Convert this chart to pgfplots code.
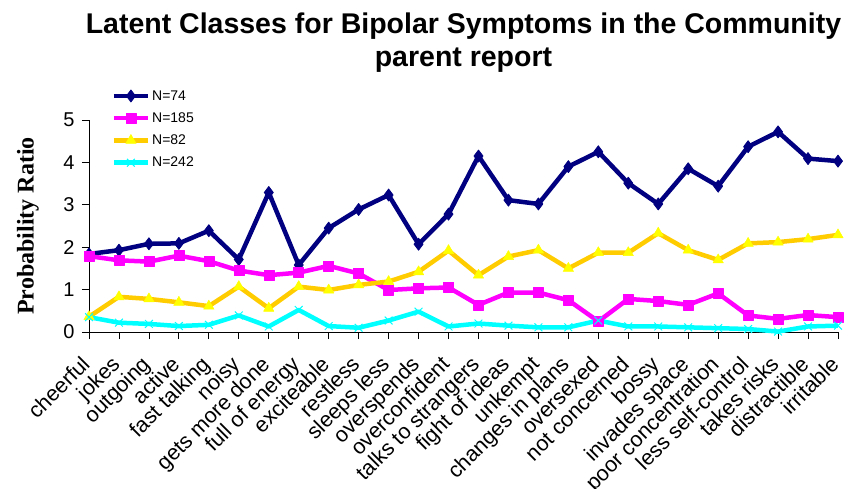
\documentclass[border=0pt]{standalone}
\usepackage{pgfplots}
\pgfplotsset{compat=1.18}
\usepackage{fontspec}
\setmainfont{Liberation Sans}
\newfontfamily\serifb{Liberation Serif}
\definecolor{navyc}{HTML}{000080}
\definecolor{magc}{HTML}{FF00FF}
\definecolor{goldc}{HTML}{FFCC00}
\definecolor{yelc}{HTML}{FFFF00}
\definecolor{cyanc}{HTML}{00FFFF}
\begin{document}
\begin{tikzpicture}
\path[use as bounding box] (-89pt,-157pt) rectangle (772pt,332pt);
\begin{axis}[
  at={(0,0)}, anchor=south west,
  scale only axis, width=749pt, height=212pt,
  xmin=0, xmax=25, ymin=0, ymax=5,
  axis lines*=left,
  clip=false,
  xtick={0,...,25},
  xticklabels={cheerful,jokes,outgoing,active,fast talking,noisy,gets more done,full of energy,exciteable,restless,sleeps less,overspends,overconfident,talks to strangers,fight of ideas,unkempt,changes in plans,oversexed,not concerned,bossy,invades space,poor concentration,less self-control,takes risks,distractible,irritable},
  ytick={0,1,2,3,4,5},
  tick align=outside, major tick length=7pt,
  tick style={black, line width=0.8pt},
  axis line style={black, line width=0.8pt},
  /pgf/number format/assume math mode=true,
  yticklabel style={font=\fontsize{20}{22}\selectfont, xshift=-4pt},
  xticklabel style={font=\fontsize{21.5}{23}\selectfont, xshift=-9pt, yshift=-14pt, rotate=45, anchor=north east, inner sep=1pt},
  title={Latent Classes for Bipolar Symptoms in the Community\\parent report},
  title style={at={(axis description cs:0.5,1)}, anchor=south, yshift=38pt, align=center, font=\fontsize{28.5}{33}\selectfont\bfseries},
  ylabel={Probability Ratio},
  ylabel style={at={(axis description cs:0,0.5)}, anchor=center, yshift=61pt, font=\fontsize{24}{26}\selectfont\serifb\bfseries},
  legend style={at={(axis description cs:0.03,1.15)}, anchor=north west, draw=none, fill=none, font=\fontsize{14}{16}\selectfont, row sep=7pt, inner sep=0pt},
  legend cell align=left,
  legend image code/.code={\draw[#1, mark repeat=2, mark phase=2] plot coordinates {(0pt,0pt)(17pt,0pt)(34pt,0pt)};},
  every axis plot/.append style={line width=4.5pt, line join=round},
]
\addplot[navyc, mark=diamond*, mark size=6pt, mark options={fill=navyc, line width=0.8pt}] coordinates {
(0,1.84)(1,1.93)(2,2.08)(3,2.09)(4,2.39)(5,1.71)(6,3.29)(7,1.58)(8,2.45)(9,2.89)(10,3.23)(11,2.07)(12,2.78)(13,4.15)(14,3.11)(15,3.02)(16,3.90)(17,4.25)(18,3.51)(19,3.02)(20,3.85)(21,3.44)(22,4.37)(23,4.72)(24,4.09)(25,4.03)};
\addlegendentry{N=74}
\addplot[magc, mark=square*, mark size=5pt, mark options={fill=magc, line width=0.5pt}] coordinates {
(0,1.79)(1,1.69)(2,1.66)(3,1.80)(4,1.67)(5,1.45)(6,1.34)(7,1.40)(8,1.56)(9,1.38)(10,0.99)(11,1.03)(12,1.05)(13,0.64)(14,0.93)(15,0.93)(16,0.75)(17,0.25)(18,0.78)(19,0.73)(20,0.64)(21,0.91)(22,0.39)(23,0.31)(24,0.40)(25,0.35)};
\addlegendentry{N=185}
\addplot[goldc, mark=triangle*, mark size=6pt, mark options={fill=yelc, draw=yelc, line width=0.5pt}] coordinates {
(0,0.36)(1,0.83)(2,0.78)(3,0.70)(4,0.61)(5,1.07)(6,0.56)(7,1.07)(8,0.99)(9,1.11)(10,1.19)(11,1.42)(12,1.92)(13,1.34)(14,1.78)(15,1.93)(16,1.50)(17,1.87)(18,1.87)(19,2.33)(20,1.93)(21,1.70)(22,2.09)(23,2.12)(24,2.19)(25,2.29)};
\addlegendentry{N=82}
\addplot[cyanc, mark=x, mark size=5.5pt, mark options={line width=1pt}] coordinates {
(0,0.35)(1,0.22)(2,0.19)(3,0.14)(4,0.17)(5,0.39)(6,0.13)(7,0.52)(8,0.14)(9,0.10)(10,0.27)(11,0.48)(12,0.13)(13,0.20)(14,0.15)(15,0.11)(16,0.11)(17,0.27)(18,0.13)(19,0.13)(20,0.11)(21,0.09)(22,0.07)(23,0.01)(24,0.13)(25,0.15)};
\addlegendentry{N=242}
\end{axis}
\end{tikzpicture}
\end{document}
